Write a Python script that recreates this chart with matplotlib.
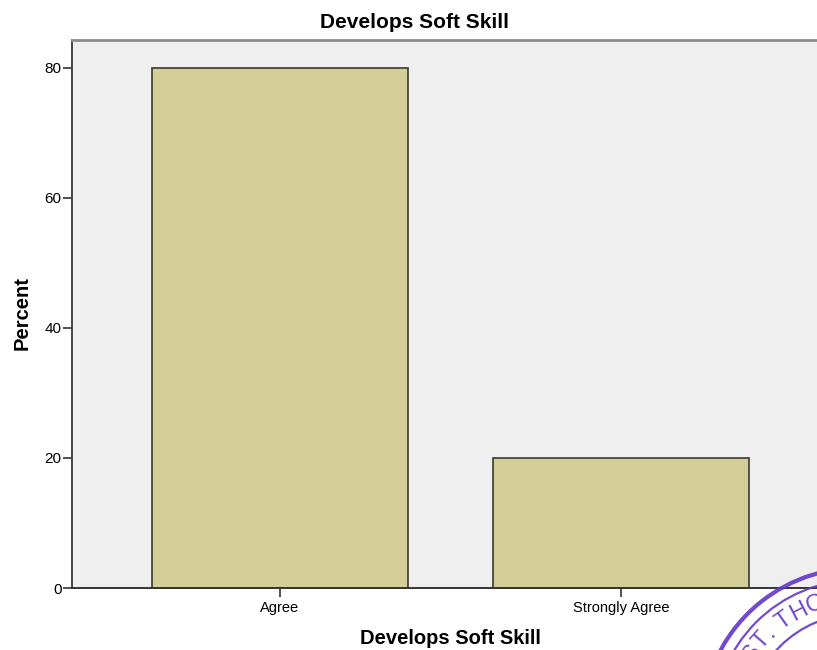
import numpy as np
import matplotlib
matplotlib.use('Agg')
import matplotlib.pyplot as plt
from matplotlib.patches import Circle

categories = ['Agree', 'Strongly Agree']
percent = [80.0, 20.0]
y_ticks = [0, 20, 40, 60, 80]

plt.rcParams['font.family'] = ['Liberation Sans', 'DejaVu Sans']

W, H = 817, 650
fig = plt.figure(figsize=(W / 100, H / 100), dpi=100)

# axes box, right side runs past the image edge like the original screenshot
left, right, top, bottom = 72, 829, 40, 588
ax = fig.add_axes([left / W, (H - bottom) / H, (right - left) / W, (bottom - top) / H])
ax.set_facecolor('#efefef')

x = np.arange(len(categories))
ax.bar(x, percent, width=0.75, color='#d3cd98', edgecolor='#3a3a30', linewidth=1.2, zorder=2)

ax.set_xlim(-0.61, 1.61)
ax.set_ylim(0, 84.3)
ax.set_xticks(x)
ax.set_xticklabels(categories, fontsize=10.5)
ax.set_yticks(y_ticks)
ax.set_yticklabels([str(t) for t in y_ticks], fontsize=11)
ax.tick_params(axis='both', direction='out', length=6.5, width=1.2, color='#333333')
ax.tick_params(axis='y', pad=1)
ax.tick_params(axis='x', pad=3)

ax.spines['right'].set_visible(False)
ax.spines['top'].set_color('#8c8c8c')
ax.spines['top'].set_linewidth(2)
ax.spines['left'].set_color('#444444')
ax.spines['left'].set_linewidth(1.4)
ax.spines['bottom'].set_color('#333333')
ax.spines['bottom'].set_linewidth(1.4)

fig.text(414 / W, 1 - 23 / H, 'Develops Soft Skill', fontsize=15, fontweight='bold',
         ha='center', va='center')
ax.set_xlabel('Develops Soft Skill', fontsize=14.5, fontweight='bold', labelpad=10)
ax.set_ylabel('Percent', fontsize=14.5, fontweight='bold', va='center')
ax.yaxis.set_label_coords(22 / W, (H - 313) / H, transform=fig.transFigure)

# partial purple stamp in the lower right corner
stamp = '#6236c8'
cx, cy = 858, H - 724
for r, lw in [(156, 3.0), (144, 1.6), (110, 1.6)]:
    fig.patches.append(Circle((cx, cy), r, transform=None, fill=False,
                              edgecolor=stamp, linewidth=lw, alpha=0.9, zorder=10))
letters = 'ST. THO'
angles = [146, 139, 133.5, 0, 125.5, 117.5, 109.5]
for ch, a in zip(letters, angles):
    if ch == ' ':
        continue
    t = np.deg2rad(a)
    r = 127
    px, py = cx + r * np.cos(t), cy + r * np.sin(t)
    fig.text(px / W, py / H, ch, color=stamp, fontsize=17, rotation=a - 90,
             ha='center', va='center', alpha=0.9)

fig.savefig('out.png', dpi=100)
